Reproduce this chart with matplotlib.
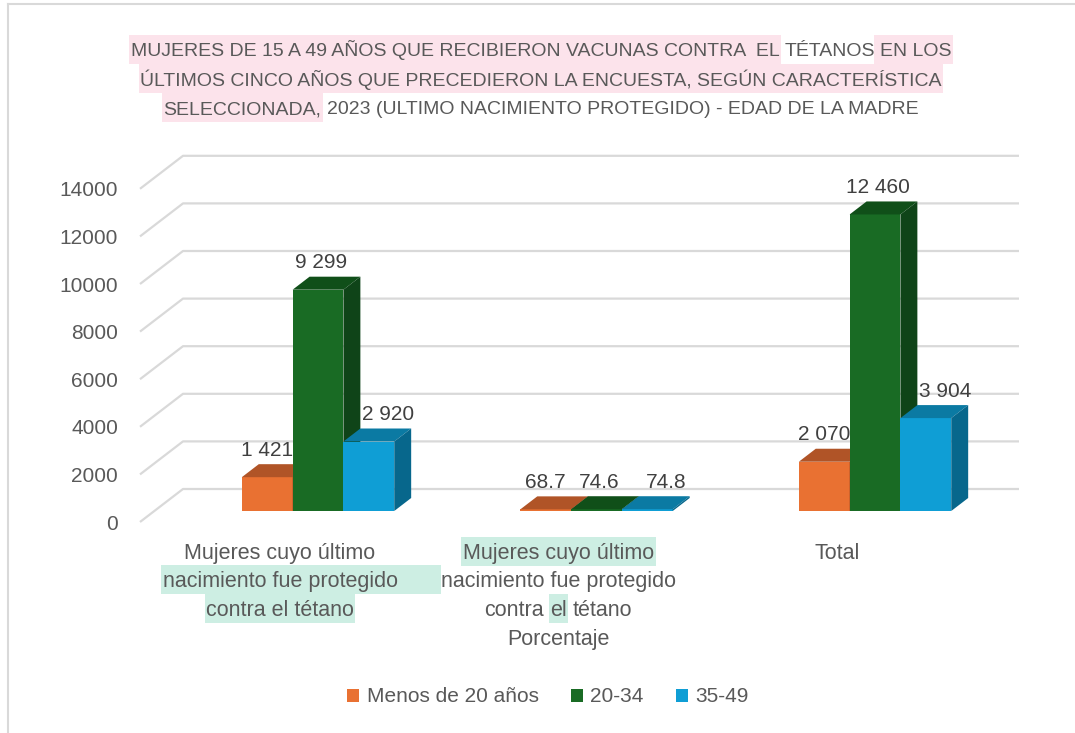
import matplotlib
matplotlib.use("Agg")
import matplotlib.pyplot as plt
from matplotlib.patches import Polygon, Rectangle, Patch
from matplotlib.lines import Line2D
from matplotlib.font_manager import FontProperties

# ---------------- data ----------------
series_names = ["Menos de 20 años", "20-34", "35-49"]
menos_20 = [1421, 68.7, 2070]
edad_20_34 = [9299, 74.6, 12460]
edad_35_49 = [2920, 74.8, 3904]
label_formats = ["{:,.0f}", "{:.1f}", "{:,.0f}"]
y_ticks = [0, 2000, 4000, 6000, 8000, 10000, 12000, 14000]

PINK = "#fce3eb"
MINT = "#cdeee3"
# category labels as lines of (text, highlight) segments
category_lines = [
    [[("Mujeres cuyo último", None)],
     [("nacimiento fue protegido       ", MINT)],
     [("contra el tétano", MINT)]],
    [[("Mujeres cuyo último", MINT)],
     [("nacimiento fue protegido", None)],
     [("contra ", None), ("el", MINT), (" tétano", None)],
     [("Porcentaje", None)]],
    [[("Total", None)]],
]
title_lines = [
    [("MUJERES DE 15 A 49 AÑOS QUE RECIBIERON VACUNAS CONTRA  EL", PINK),
     (" TÉTANOS", None), (" EN LOS", PINK)],
    [("ÚLTIMOS CINCO AÑOS QUE PRECEDIERON LA ENCUESTA, SEGÚN CARACTERÍSTICA", PINK)],
    [("SELECCIONADA,", PINK), (" 2023 (ULTIMO NACIMIENTO PROTEGIDO) - EDAD DE LA MADRE", None)],
]

# ---------------- style / layout ----------------
plt.rcParams["font.family"] = ["Liberation Sans", "DejaVu Sans"]
W, H = 1075, 733
colors_front = ["#E97132", "#196B24", "#0F9ED5"]
colors_top = ["#B05427", "#104F19", "#0B7AA3"]
colors_side = ["#9C4A22", "#0F4418", "#07678C"]
TEXT = "#595959"
GRID = "#d9d9d9"

K = 0.0238          # px per value unit
PXC = 278.5         # px per category
DXR = 43 / 33       # x shift per px of depth
floor_front_py = 522
floor_left_px = 140
right_px = 1019
top_py = 150
cat0_px = 303.7     # category 0 centre on the front floor plane
D_BACK = 33
D_FRONT_BAR = 11
D_BAR = 13
BW = 50.8 / PXC
label_dx_px = [0, 3, 19]

fig = plt.figure(figsize=(W / 100, H / 100), dpi=100)
ax = fig.add_axes([floor_left_px / W, (H - floor_front_py) / H,
                   (right_px - floor_left_px) / W, (floor_front_py - top_py) / H])
xmin = (floor_left_px - cat0_px) / PXC
xmax = (right_px - cat0_px) / PXC
ax.set_xlim(xmin, xmax)
ax.set_ylim(0, (floor_front_py - top_py) / K)
ax.patch.set_visible(False)
for s in ax.spines.values():
    s.set_visible(False)
ax.set_xticks([])
ax.set_yticks(y_ticks)
ax.set_yticklabels([str(t) for t in y_ticks])
ax.tick_params(axis="y", length=0, pad=22 * 0.72, labelsize=15, labelcolor=TEXT)


def depth(d):
    return d * DXR / PXC, d / K


# back wall gridlines with diagonal floor/side segments
bdx, bdy = depth(D_BACK)
for t in y_ticks:
    ax.plot([xmin, xmin + bdx, xmax], [t, t + bdy, t + bdy], color=GRID,
            lw=1.6, zorder=1, clip_on=False, solid_capstyle="butt")

# 3D-style bars
sx, sy = depth(D_FRONT_BAR)
ddx, ddy = depth(D_BAR)
all_series = [menos_20, edad_20_34, edad_35_49]
n = len(menos_20)
for j, vals in enumerate(all_series):
    z = 3 + j
    centers = [i + (j - 1) * BW + sx for i in range(n)]
    ax.bar(centers, vals, width=BW, bottom=sy, color=colors_front[j],
           zorder=z, linewidth=0)
    for i, (xc, v) in enumerate(zip(centers, vals)):
        x0, x1 = xc - BW / 2, xc + BW / 2
        top = sy + v
        ax.add_patch(Polygon([(x0, top), (x1, top), (x1 + ddx, top + ddy),
                              (x0 + ddx, top + ddy)], closed=True,
                             fc=colors_top[j], ec="none", zorder=z))
        ax.add_patch(Polygon([(x1, sy), (x1 + ddx, sy + ddy),
                              (x1 + ddx, top + ddy), (x1, top)], closed=True,
                             fc=colors_side[j], ec="none", zorder=z))
        txt = label_formats[i].format(v).replace(",", " ")
        ax.text(xc + label_dx_px[j] / PXC, top + ddy + 14 / K, txt,
                ha="center", va="center", fontsize=15, color="#404040",
                zorder=10)

# ---------------- text with highlights ----------------
renderer = fig.canvas.get_renderer()


def adv(s, prop):
    if not s:
        return 0.0
    w1 = renderer.get_text_width_height_descent(s + "|", prop, ismath=False)[0]
    w2 = renderer.get_text_width_height_descent("|", prop, ismath=False)[0]
    return w1 - w2


def draw_line(cx, cy, segments, size_pt, band=29, pad=1.5):
    prop = FontProperties(family=["Liberation Sans", "DejaVu Sans"], size=size_pt)
    size_px = size_pt * 100 / 72
    full = "".join(s for s, _ in segments)
    left = cx - adv(full.rstrip(), prop) / 2
    base = cy + 0.36 * size_px
    x = left
    for seg, hc in segments:
        w = adv(seg, prop)
        if hc:
            fig.add_artist(Rectangle(((x - pad) / W, 1 - (cy + band / 2) / H),
                                     (w + 2 * pad) / W, band / H,
                                     transform=fig.transFigure, fc=hc,
                                     ec="none", zorder=0.5))
        lead = len(seg) - len(seg.lstrip())
        vis = seg.strip()
        if vis:
            fig.text((x + adv(seg[:lead], prop)) / W, 1 - base / H, vis,
                     ha="left", va="baseline", fontproperties=prop,
                     color=TEXT, zorder=3)
        x += w


# title
for k, segs in enumerate(title_lines):
    draw_line(541, 49.5 + 29 * k, segs, 14)

# category labels
for i, lines in enumerate(category_lines):
    cx = ax.transData.transform((i + sx, 0))[0] - 38
    for k, segs in enumerate(lines):
        draw_line(cx, 551 + 28.7 * k, segs, 15.5)

# legend
handles = [Patch(facecolor=c, edgecolor="none") for c in colors_front]
fig.legend(handles, series_names, loc="center", bbox_to_anchor=(548 / W, 1 - 697 / H),
           ncol=3, frameon=False, fontsize=15, handlelength=0.58,
           handleheight=0.58, handletextpad=0.35, columnspacing=1.55,
           labelcolor=TEXT)

# chart border (partial, as cropped in the original)
fig.add_artist(Line2D([8 / W, 8 / W], [0, 1 - 4 / H], color="#d9d9d9", lw=1.5,
                      transform=fig.transFigure))
fig.add_artist(Line2D([8 / W, 1], [1 - 4 / H, 1 - 4 / H], color="#d9d9d9", lw=1.5,
                      transform=fig.transFigure))

fig.savefig("out.png", dpi=100, facecolor="white")
